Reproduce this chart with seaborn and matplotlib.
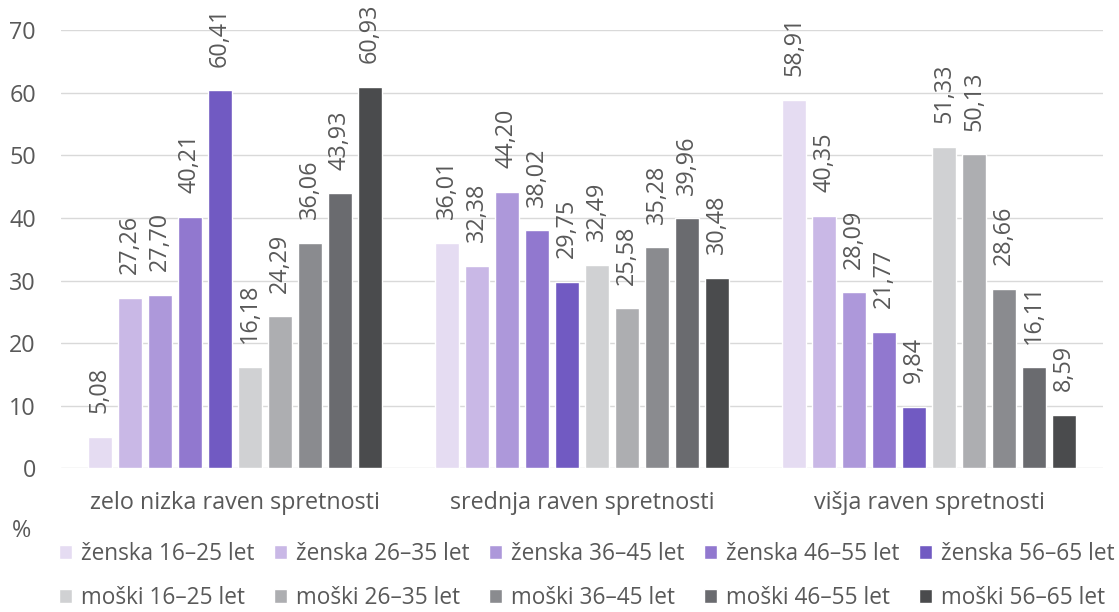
import matplotlib
matplotlib.use("Agg")
import matplotlib.pyplot as plt
import seaborn as sns
import pandas as pd

categories = ["zelo nizka raven spretnosti", "srednja raven spretnosti", "višja raven spretnosti"]
series = ["ženska 16–25 let", "ženska 26–35 let", "ženska 36–45 let", "ženska 46–55 let", "ženska 56–65 let",
          "moški 16–25 let", "moški 26–35 let", "moški 36–45 let", "moški 46–55 let", "moški 56–65 let"]
zenska_16_25 = [5.08, 36.01, 58.91]
zenska_26_35 = [27.26, 32.38, 40.35]
zenska_36_45 = [27.70, 44.20, 28.09]
zenska_46_55 = [40.21, 38.02, 21.77]
zenska_56_65 = [60.41, 29.75, 9.84]
moski_16_25 = [16.18, 32.49, 51.33]
moski_26_35 = [24.29, 25.58, 50.13]
moski_36_45 = [36.06, 35.28, 28.66]
moski_46_55 = [43.93, 39.96, 16.11]
moski_56_65 = [60.93, 30.48, 8.59]
values = [zenska_16_25, zenska_26_35, zenska_36_45, zenska_46_55, zenska_56_65,
          moski_16_25, moski_26_35, moski_36_45, moski_46_55, moski_56_65]
yticks = [0, 10, 20, 30, 40, 50, 60, 70]

colors = ["#e5dcf2", "#c9b8e6", "#ad98da", "#9178cf", "#715ac2",
          "#d0d1d3", "#adaeb1", "#8a8b8f", "#6a6b6f", "#4a4b4d"]
text_color = "#595959"
FS = 16.8
LFS = 16.3

rows = []
for s, vals in zip(series, values):
    for c, v in zip(categories, vals):
        rows.append({"cat": c, "series": s, "val": v})
df = pd.DataFrame(rows)

sns.set_theme(style="white")
plt.rcParams['font.family'] = ['Open Sans', 'DejaVu Sans']

fig = plt.figure(figsize=(11.19, 6.12), dpi=100)
ax = fig.add_axes([0.0545, 0.2348, 0.9857 - 0.0545, 0.9508 - 0.2348])

sns.barplot(data=df, x="cat", y="val", hue="series", order=categories, hue_order=series,
            palette=colors, width=0.864, gap=0.2, ax=ax, saturation=1, errorbar=None)

for cont, vals in zip(ax.containers, values):
    ax.bar_label(cont, labels=[f"{v:.2f}".replace(".", ",") for v in vals], rotation=90,
                 padding=17, fontsize=FS, color=text_color)

ax.set_ylim(0, 70)
ax.set_xlim(-0.5, 2.5)
ax.set_yticks(yticks)
ax.yaxis.grid(True, color="#d9d9d9", lw=1.0)
ax.set_axisbelow(True)
for sp in ax.spines.values():
    sp.set_visible(False)
ax.tick_params(axis="y", length=0, pad=18, labelsize=FS, labelcolor=text_color)
ax.tick_params(axis="x", length=0, pad=16, labelsize=FS, labelcolor=text_color)
ax.set_xlabel("")
ax.set_ylabel("")

handles, labels = ax.get_legend_handles_labels()
if ax.get_legend() is not None:
    ax.get_legend().remove()
order = [0, 5, 1, 6, 2, 7, 3, 8, 4, 9]
leg = fig.legend([handles[i] for i in order], [labels[i] for i in order], ncol=5,
                 loc="upper left", bbox_to_anchor=(0.0523, 0.1144),
                 frameon=False, fontsize=LFS, handlelength=0.575, handleheight=0.575,
                 handletextpad=0.4, columnspacing=0.86, labelspacing=0.88, borderpad=0,
                 borderaxespad=0)
for t in leg.get_texts():
    t.set_color(text_color)

fig.text(0.011, 1 - 531 / 612, "%", fontsize=FS, color=text_color, va="center", ha="left")

fig.savefig("out.png", dpi=100)
